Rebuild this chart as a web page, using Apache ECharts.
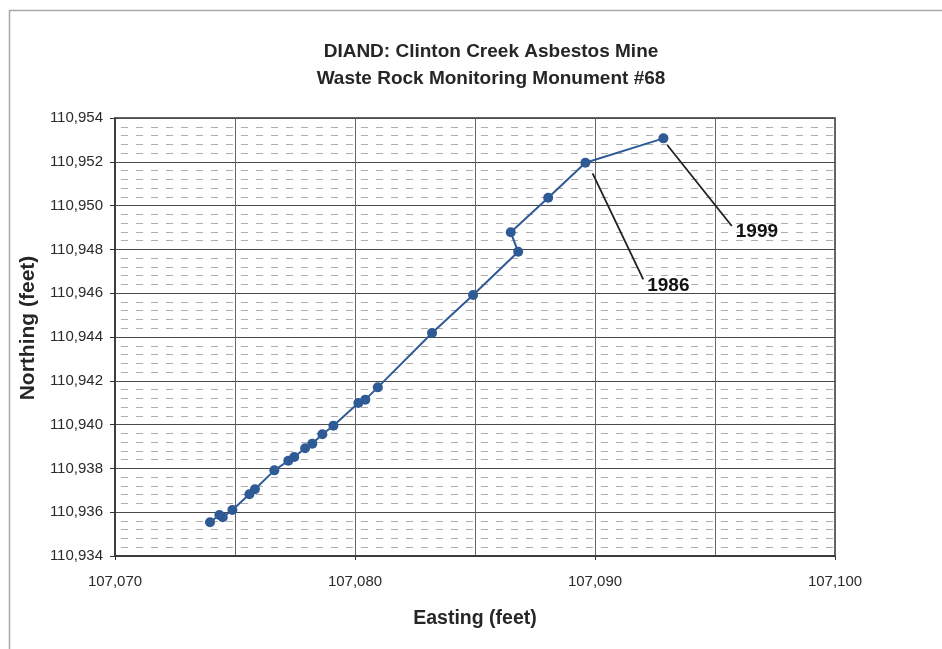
<!DOCTYPE html>
<html>
<head>
<meta charset="utf-8">
<script src="https://cdn.jsdelivr.net/npm/echarts@6/dist/echarts.min.js"></script>
<style>html,body{margin:0;padding:0;background:#fff;}#c{width:942px;height:649px;}</style>
</head>
<body>
<div id="c"></div>
<script>
// Monument #68 survey positions (feet), in time order
const easting = [107073.96, 107074.35, 107074.49, 107074.89, 107075.60, 107075.83, 107076.64, 107077.22, 107077.47, 107077.92, 107078.22, 107078.64, 107079.10, 107080.14, 107080.43, 107080.95, 107083.21, 107084.92, 107086.80, 107086.49, 107088.05, 107089.60, 107092.85];
const northing = [110935.54, 110935.87, 110935.77, 110936.10, 110936.82, 110937.05, 110937.91, 110938.35, 110938.52, 110938.92, 110939.13, 110939.56, 110939.95, 110940.99, 110941.14, 110941.70, 110944.18, 110945.92, 110947.89, 110948.78, 110950.36, 110951.96, 110953.07];

// Year annotations: leader line start (near point) and end (label anchor)
const annoLabels = ['1986', '1999'];
const annoStart = [[107089.90, 110951.47], [107093.01, 110952.77]];
const annoEnd = [[107092.01, 110946.63], [107095.70, 110949.07]];

const xTicks = {min: 107070, max: 107100, step: 10};
const yTicks = {min: 110934, max: 110954, step: 2};

const FONT = '"Liberation Sans", Arial, Helvetica, sans-serif';
const fmt = v => Math.round(v).toLocaleString('en-US');

const chart = echarts.init(document.getElementById('c'), null, {renderer: 'canvas'});
const points = easting.map((e, i) => [e, northing[i]]);

chart.setOption({
  animation: false,
  backgroundColor: '#ffffff',
  textStyle: {fontFamily: FONT},
  title: {
    text: 'DIAND: Clinton Creek Asbestos Mine\nWaste Rock Monitoring Monument #68',
    left: 486, textAlign: 'center', top: 33,
    textStyle: {fontFamily: FONT, fontSize: 19, fontWeight: 'bold', color: '#262626', lineHeight: 27}
  },
  graphic: [
    {type: 'line', shape: {x1: 9, y1: 10.5, x2: 942, y2: 10.5}, style: {stroke: '#a8a8a8', lineWidth: 1.5}, silent: true},
    {type: 'line', shape: {x1: 9.5, y1: 10, x2: 9.5, y2: 649}, style: {stroke: '#a8a8a8', lineWidth: 1.5}, silent: true},
    {type: 'text', x: 28, y: 328, rotation: Math.PI / 2, silent: true,
      style: {text: 'Northing (feet)', x: 0, y: 0, align: 'center', verticalAlign: 'middle',
        font: 'bold 21px ' + FONT, fill: '#262626'}}
  ],
  grid: {left: 115, top: 118, width: 720, height: 438, show: true, borderColor: '#333', borderWidth: 1.5, backgroundColor: 'transparent'},
  xAxis: {
    type: 'value', min: xTicks.min, max: xTicks.max, interval: xTicks.step,
    name: 'Easting (feet)', nameLocation: 'middle', nameGap: 53,
    nameTextStyle: {fontFamily: FONT, fontSize: 19.5, fontWeight: 'bold', color: '#262626'},
    axisLine: {lineStyle: {color: '#333', width: 1.5}},
    axisTick: {show: true, length: 4, lineStyle: {color: '#333'}},
    axisLabel: {formatter: fmt, fontSize: 15, color: '#2a2a2a', margin: 18},
    splitLine: {show: true, lineStyle: {color: '#666', width: 1}},
    minorTick: {show: false, splitNumber: 2},
    minorSplitLine: {show: true, lineStyle: {color: '#666', width: 1}}
  },
  yAxis: {
    type: 'value', min: yTicks.min, max: yTicks.max, interval: yTicks.step,
    axisLine: {lineStyle: {color: '#333', width: 1.5}},
    axisTick: {show: true, length: 5, lineStyle: {color: '#333'}},
    axisLabel: {formatter: fmt, fontSize: 15, color: '#2a2a2a', margin: 12},
    splitLine: {show: true, lineStyle: {color: '#4a4a4a', width: 1}},
    minorTick: {show: false, splitNumber: 5},
    minorSplitLine: {show: true, lineStyle: {color: '#adadad', width: 1, type: [7, 8], dashOffset: -6}}
  },
  series: [
    {
      type: 'line', data: points, symbol: 'circle', symbolSize: 10,
      lineStyle: {color: '#2e5a96', width: 2}, itemStyle: {color: '#2e5a96'}, z: 5
    },
    {
      type: 'scatter', symbolSize: 0, z: 4,
      data: annoEnd.map((p, i) => ({value: p, name: annoLabels[i]})),
      itemStyle: {opacity: 1},
      label: {show: true, position: 'right', distance: 3, offset: [1, 6], formatter: '{b}',
        fontFamily: FONT, fontSize: 19, fontWeight: 'bold', color: '#111', opacity: 1},
      markLine: {
        silent: true, symbol: 'none', animation: false,
        lineStyle: {color: '#222', width: 1.8, type: 'solid'},
        label: {show: false},
        data: annoStart.map((s, i) => [{coord: s}, {coord: annoEnd[i]}])
      }
    }
  ]
});
</script>
</body>
</html>
